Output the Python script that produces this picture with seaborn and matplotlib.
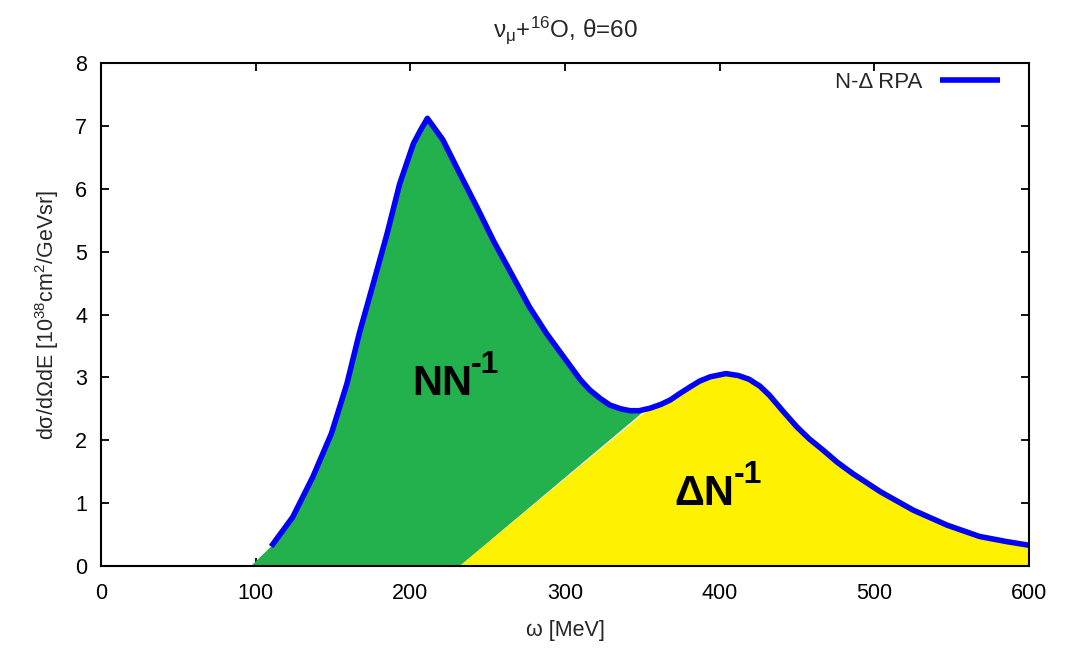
import numpy as np
import pandas as pd
import matplotlib
matplotlib.use("Agg")
import matplotlib.pyplot as plt
import seaborn as sns

# ---- data ----
omega = [110, 124, 137, 149, 159, 167, 176, 185, 193, 202, 207, 211, 216, 221,
         232, 243, 254, 266, 277, 288, 299, 310, 316, 323, 329, 336, 342, 348,
         355, 362, 368, 374, 381, 387, 394, 404, 412, 419, 426, 432, 441, 450,
         458, 467, 476, 486, 504, 525, 547, 568, 585, 600]
sigma = [0.31, 0.78, 1.42, 2.11, 2.90, 3.70, 4.49, 5.29, 6.07, 6.72, 6.95, 7.12,
         6.95, 6.78, 6.24, 5.71, 5.16, 4.62, 4.12, 3.70, 3.33, 2.96, 2.80, 2.66,
         2.56, 2.50, 2.47, 2.47, 2.51, 2.57, 2.64, 2.74, 2.85, 2.94, 3.01, 3.06,
         3.03, 2.97, 2.86, 2.72, 2.46, 2.21, 2.02, 1.84, 1.65, 1.47, 1.18, 0.89,
         0.65, 0.47, 0.39, 0.33]
nn_start_omega = 97            # green region starts at the axis here
delta_edge_omega = [232, 353]  # boundary line between NN^-1 and DeltaN^-1
delta_edge_sigma = [0.0, 2.50]

x_ticks = [0, 100, 200, 300, 400, 500, 600]
y_ticks = [0, 1, 2, 3, 4, 5, 6, 7, 8]
title = r'ν$_{\mu}$+$^{16}$O, θ=60'
xlabel = 'ω [MeV]'
ylabel = r'dσ/dΩdE [10$^{38}$cm$^{2}$/GeVsr]'
legend_label = 'N-Δ RPA'
region_labels = ['NN', 'ΔN']
region_sup = '-1'
region_pos_omega = [201, 371]
region_pos_sigma = [2.72, 0.97]

# ---- style ----
sns.set_style("ticks")
plt.rcParams['font.family'] = ['Liberation Sans', 'DejaVu Sans']
plt.rcParams['mathtext.fontset'] = 'custom'
plt.rcParams['mathtext.rm'] = 'Liberation Sans'
plt.rcParams['mathtext.it'] = 'Liberation Sans'
plt.rcParams['mathtext.bf'] = 'Liberation Sans:bold'

GREEN = '#22B14C'
YELLOW = '#FFF200'
BLUE = '#0000FF'

fig = plt.figure(figsize=(10.70, 6.49), dpi=100)
ax = fig.add_axes([0.0944, 0.1279, 0.8673, 0.7750])

df = pd.DataFrame({'omega': omega, 'sigma': sigma})
om = np.array(omega, dtype=float)
sg = np.array(sigma, dtype=float)

# green (NN^-1) region polygon
cut = delta_edge_omega[1]
mask_g = om <= cut
gx = np.concatenate([[nn_start_omega], om[mask_g], delta_edge_omega[::-1]])
gy = np.concatenate([[0.0], sg[mask_g], delta_edge_sigma[::-1]])
ax.fill(gx, gy, color=GREEN, lw=0, zorder=1)

# yellow (DeltaN^-1) region polygon
mask_y = om >= cut
yx = np.concatenate([delta_edge_omega[:1], om[mask_y], [om[-1]]])
yy = np.concatenate([delta_edge_sigma[:1], sg[mask_y], [0.0]])
ax.fill(yx, yy, color=YELLOW, lw=0, zorder=1)

sns.lineplot(data=df, x='omega', y='sigma', ax=ax, color=BLUE, lw=4.0,
             label=legend_label, zorder=3, sort=False)
for l in ax.lines:
    l.set_solid_capstyle('butt')
    l.set_solid_joinstyle('round')

for lab, xo, yo in zip(region_labels, region_pos_omega, region_pos_sigma):
    t = ax.text(xo, yo, lab, fontsize=30, fontweight='bold', color='black',
                ha='left', va='baseline', zorder=4)
    ax.annotate(region_sup, xy=(1, 0), xycoords=t, xytext=(-1, 22),
                textcoords='offset points', fontsize=23, fontweight='bold',
                ha='left', va='baseline', color='black', zorder=4)

ax.set_xlim(0, 600)
ax.set_ylim(0, 8)
ax.set_xticks(x_ticks)
ax.set_yticks(y_ticks)
ax.tick_params(direction='in', length=6, width=1.3, top=True, right=True,
               labelsize=15.5, colors='black')
ax.tick_params(axis='y', pad=10)
ax.tick_params(axis='x', pad=12)
for s in ax.spines.values():
    s.set_visible(True)
    s.set_linewidth(1.5)
    s.set_color('black')
    s.set_zorder(5)

ax.set_title(title, fontsize=17.5, pad=19)
ax.set_xlabel(xlabel, fontsize=15.5, labelpad=12)
ax.set_ylabel(ylabel, fontsize=15.5, labelpad=10)

leg = ax.legend(loc='upper right', bbox_to_anchor=(0.978, 1.0), frameon=False,
                markerfirst=False, fontsize=16, handlelength=2.7,
                handletextpad=0.8, borderaxespad=0.0)

fig.savefig('out.png', dpi=100)
